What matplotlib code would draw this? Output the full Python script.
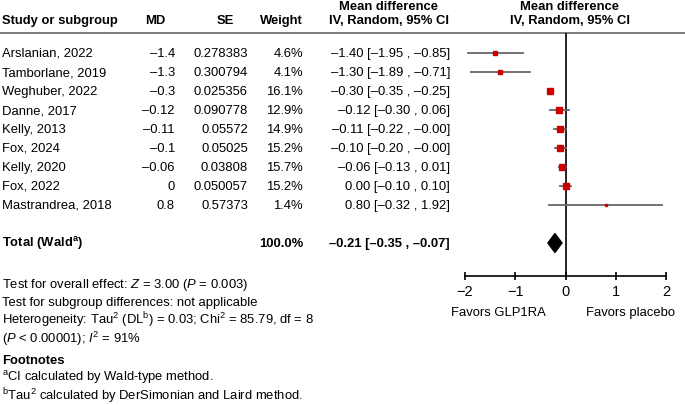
import numpy as np
import matplotlib
matplotlib.use("Agg")
import matplotlib.pyplot as plt

plt.rcParams["font.family"] = ["Liberation Sans", "DejaVu Sans"]
plt.rcParams["mathtext.fontset"] = "custom"
plt.rcParams["mathtext.rm"] = "Liberation Sans"
plt.rcParams["mathtext.it"] = "Liberation Sans:italic"
plt.rcParams["mathtext.bf"] = "Liberation Sans:bold"
plt.rcParams["mathtext.default"] = "regular"

studies = ["Arslanian, 2022", "Tamborlane, 2019", "Weghuber, 2022", "Danne, 2017",
           "Kelly, 2013", "Fox, 2024", "Kelly, 2020", "Fox, 2022", "Mastrandrea, 2018"]
md_text = ["\u20131.4", "\u20131.3", "\u20130.3", "\u20130.12", "\u20130.11", "\u20130.1",
           "\u20130.06", "0", "0.8"]
se_text = ["0.278383", "0.300794", "0.025356", "0.090778", "0.05572", "0.05025",
           "0.03808", "0.050057", "0.57373"]
weights = [4.6, 4.1, 16.1, 12.9, 14.9, 15.2, 15.7, 15.2, 1.4]
est = [-1.40, -1.30, -0.30, -0.12, -0.11, -0.10, -0.06, 0.00, 0.80]
lo = [-1.95, -1.89, -0.35, -0.30, -0.22, -0.20, -0.13, -0.10, -0.32]
hi = [-0.85, -0.71, -0.25, 0.06, -0.00, -0.00, 0.01, 0.10, 1.92]
total = (-0.21, -0.35, -0.07)
total_weight = "100.0%"
xticks = [-2, -1, 0, 1, 2]


def fmt(v):
    s = "%.2f" % v
    if s.startswith("-"):
        s = "\u2013" + s[1:]
    return s


W, H = 685, 406
fig = plt.figure(figsize=(W / 100, H / 100), dpi=100)

# text layer in pixel coordinates
tab = fig.add_axes([0, 0, 1, 1])
tab.set_xlim(0, W)
tab.set_ylim(H, 0)
tab.axis("off")

fs = 9.4
row0, step = 54, 19
total_row = 10


def ry(i):
    return row0 + step * i


# headers
hb = dict(fontsize=fs, fontweight="bold", va="center")
tab.text(2, 21, "Study or subgroup", ha="left", **hb)
tab.text(155, 21, "MD", ha="center", **hb)
tab.text(225, 21, "SE", ha="center", **hb)
tab.text(303, 21, "Weight", ha="right", **hb)
tab.text(389, 7, "Mean difference", ha="center", **hb)
tab.text(389, 21, "IV, Random, 95% CI", ha="center", **hb)
tab.text(570, 7, "Mean difference", ha="center", **hb)
tab.text(570, 21, "IV, Random, 95% CI", ha="center", **hb)
tab.axhline(34, color="#666666", lw=1.2)

for i, name in enumerate(studies):
    y = ry(i)
    tab.text(2, y, name, ha="left", va="center", fontsize=fs)
    tab.text(175, y, md_text[i], ha="right", va="center", fontsize=fs)
    tab.text(248, y, se_text[i], ha="right", va="center", fontsize=fs)
    tab.text(303, y, "%.1f%%" % weights[i], ha="right", va="center", fontsize=fs)
    tab.text(450, y, "%s [%s , %s]" % (fmt(est[i]), fmt(lo[i]), fmt(hi[i])),
             ha="right", va="center", fontsize=fs)

yt = ry(total_row)
tab.text(2, yt, "Total (Wald$^a$)", ha="left", va="center", fontsize=fs, fontweight="bold")
tab.text(303, yt, total_weight, ha="right", va="center", fontsize=fs, fontweight="bold")
tab.text(450, yt, "%s [%s , %s]" % (fmt(total[0]), fmt(total[1]), fmt(total[2])),
         ha="right", va="center", fontsize=fs, fontweight="bold")

notes = [
    (285, "Test for overall effect: $\\it{Z}$ = 3.00 ($\\it{P}$ = 0.003)"),
    (303, "Test for subgroup differences: not applicable"),
    (320, "Heterogeneity: Tau$^2$ (DL$^b$) = 0.03; Chi$^2$ = 85.79, df = 8"),
    (339, "($\\it{P}$ < 0.00001); $\\it{I}^2$ = 91%"),
]
for y, s in notes:
    tab.text(2, y, s, ha="left", va="center", fontsize=fs)
tab.text(2, 361, "Footnotes", ha="left", va="center", fontsize=fs, fontweight="bold")
tab.text(2, 378, "$^a$CI calculated by Wald-type method.", ha="left", va="center", fontsize=fs)
tab.text(2, 396, "$^b$Tau$^2$ calculated by DerSimonian and Laird method.", ha="left",
         va="center", fontsize=fs)

# forest panel
top_px, bot_px = 34, 277
left_px, right_px = 465, 666
ax = fig.add_axes([left_px / W, 1 - bot_px / H, (right_px - left_px) / W, (bot_px - top_px) / H])
ax.set_xlim(-2, 2)
ax.set_ylim((bot_px - row0) / step, (top_px - row0) / step)
ax.patch.set_alpha(0)
for s in ["top", "left", "right"]:
    ax.spines[s].set_visible(False)
ax.spines["bottom"].set_linewidth(1.2)
ax.set_yticks([])
ax.set_xticks(xticks)
ax.tick_params(axis="x", direction="inout", length=6, width=1.2, labelsize=10.5, pad=3)
ax.axvline(0, color="black", lw=1.2)

for i in range(len(studies)):
    ax.plot([lo[i], hi[i]], [i, i], color="#666666", lw=1.3, clip_on=False)
    ax.plot(est[i], i, marker="s", color="#cc0000", linestyle="none",
            markersize=(2.2 + 0.22 * weights[i]) * 0.72, clip_on=False)

h = 0.5
ax.fill([total[1], total[0], total[2], total[0]],
        [total_row, total_row - h, total_row, total_row + h], color="black", clip_on=False)

fig.text(498 / W, 1 - 313 / H, "Favors GLP1RA", ha="center", va="center", fontsize=fs)
fig.text(631 / W, 1 - 313 / H, "Favors placebo", ha="center", va="center", fontsize=fs)

fig.savefig("out.png", dpi=100)
